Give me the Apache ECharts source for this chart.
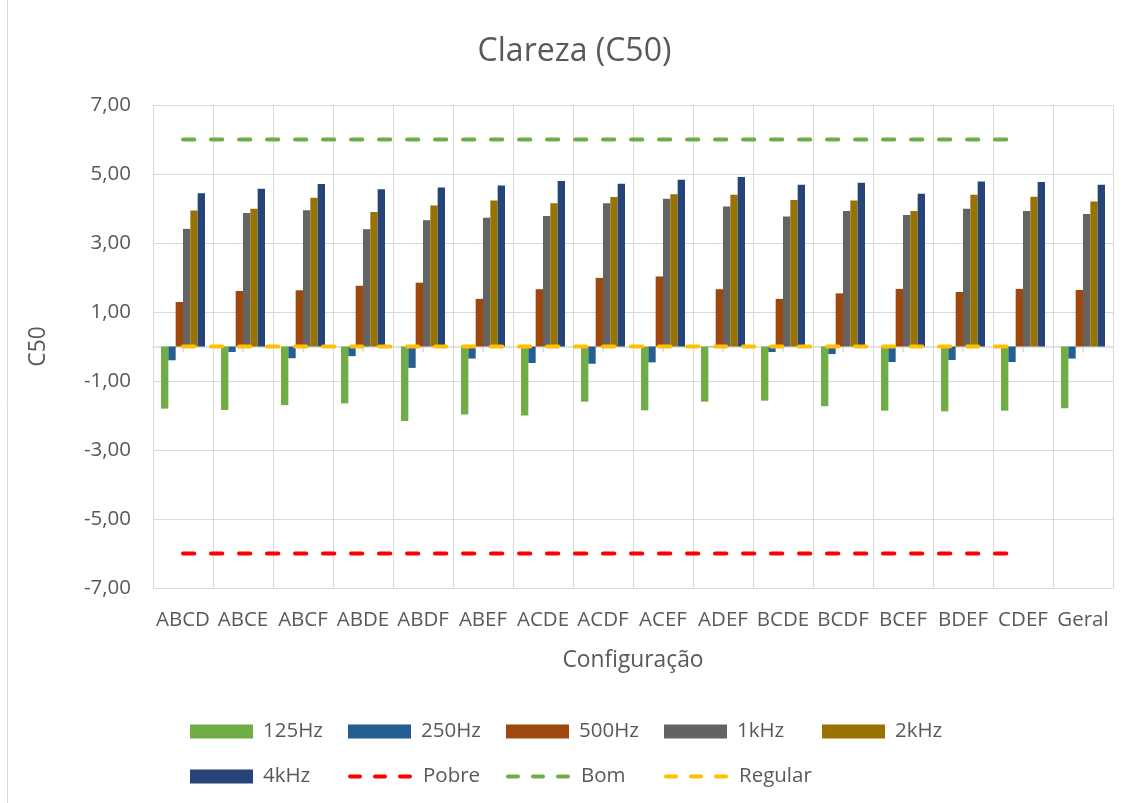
<!DOCTYPE html>
<html>
<head>
<meta charset="utf-8">
<title>Clareza (C50)</title>
<script src="https://cdn.jsdelivr.net/npm/echarts@6/dist/echarts.min.js"></script>
<style>
  html, body { margin: 0; padding: 0; background: #ffffff; }
  #chart { width: 1135px; height: 803px; }
</style>
</head>
<body>
<div id="chart"></div>
<script>
// Configurations measured and the overall result
const categories = ['ABCD', 'ABCE', 'ABCF', 'ABDE', 'ABDF', 'ABEF', 'ACDE', 'ACDF',
                    'ACEF', 'ADEF', 'BCDE', 'BCDF', 'BCEF', 'BDEF', 'CDEF', 'Geral'];

// C50 per octave band (dB)
const hz125 = [-1.80, -1.84, -1.70, -1.65, -2.16, -1.97, -2.00, -1.60, -1.85, -1.60, -1.57, -1.73, -1.86, -1.88, -1.86, -1.79];
const hz250 = [-0.40, -0.16, -0.34, -0.28, -0.62, -0.35, -0.48, -0.50, -0.46, -0.01, -0.16, -0.22, -0.45, -0.39, -0.45, -0.35];
const hz500 = [1.29, 1.61, 1.63, 1.76, 1.85, 1.38, 1.66, 1.99, 2.03, 1.66, 1.38, 1.54, 1.67, 1.58, 1.67, 1.64];
const khz1  = [3.41, 3.87, 3.95, 3.40, 3.66, 3.73, 3.78, 4.15, 4.28, 4.06, 3.77, 3.93, 3.81, 3.99, 3.93, 3.84];
const khz2  = [3.94, 3.99, 4.31, 3.90, 4.09, 4.23, 4.15, 4.33, 4.41, 4.40, 4.25, 4.23, 3.93, 4.40, 4.34, 4.20];
const khz4  = [4.44, 4.57, 4.71, 4.56, 4.61, 4.67, 4.80, 4.72, 4.83, 4.91, 4.69, 4.75, 4.43, 4.78, 4.77, 4.69];

// Reference limits (not drawn for "Geral")
const pobre   = [-6, -6, -6, -6, -6, -6, -6, -6, -6, -6, -6, -6, -6, -6, -6, null];
const bom     = [6, 6, 6, 6, 6, 6, 6, 6, 6, 6, 6, 6, 6, 6, 6, null];
const regular = [0, 0, 0, 0, 0, 0, 0, 0, 0, 0, 0, 0, 0, 0, 0, null];

// Value axis range and tick step
const yMin = -7;
const yMax = 7;
const yStep = 2;

// Legend entries, one list per row
const legendRows = [
  ['125Hz', '250Hz', '500Hz', '1kHz', '2kHz'],
  ['4kHz', 'Pobre', 'Bom', 'Regular']
];

const FONT = 'Open Sans';
const TEXT = '#595959';
const GRID = '#D9D9D9';

const barDefs = [
  { name: '125Hz', data: hz125, color: '#70AD47' },
  { name: '250Hz', data: hz250, color: '#255E91' },
  { name: '500Hz', data: hz500, color: '#9E480E' },
  { name: '1kHz',  data: khz1,  color: '#636363' },
  { name: '2kHz',  data: khz2,  color: '#997300' },
  { name: '4kHz',  data: khz4,  color: '#264478' }
];
const lineDefs = [
  { name: 'Pobre',   data: pobre,   color: '#FF0000' },
  { name: 'Bom',     data: bom,     color: '#70AD47' },
  { name: 'Regular', data: regular, color: '#FFC000' }
];
const lineNames = lineDefs.map(d => d.name);

const barSeries = barDefs.map(s => ({
  name: s.name,
  type: 'bar',
  data: s.data,
  barGap: '0%',
  barCategoryGap: '26.7%',
  itemStyle: { color: s.color },
  emphasis: { disabled: true }
}));

const lineSeries = lineDefs.map(s => ({
  name: s.name,
  type: 'line',
  data: s.data,
  symbol: 'none',
  itemStyle: { color: s.color },
  lineStyle: { color: s.color, width: 4, type: [11.3, 16.7], cap: 'round' },
  emphasis: { disabled: true }
}));

// One legend block per entry so the entries sit on a fixed column grid
const legendDash = { type: [10, 15], width: 4, cap: 'round' };
const legends = [];
legendRows.forEach((row, r) => {
  row.forEach((name, c) => {
    const isLine = lineNames.indexOf(name) >= 0;
    legends.push({
      left: 190 + c * 158,
      top: 721 + r * 45,
      padding: 0,
      itemWidth: 63,
      itemHeight: 14,
      itemGap: 0,
      selectedMode: false,
      textStyle: { fontFamily: FONT, fontSize: 20.5, color: TEXT, padding: [0, 0, 0, 5] },
      data: [isLine
        ? { name: name, lineStyle: legendDash, itemStyle: { opacity: 0 } }
        : { name: name, icon: 'rect' }]
    });
  });
});

const chart = echarts.init(document.getElementById('chart'), null, { renderer: 'canvas' });

chart.setOption({
  animation: false,
  backgroundColor: '#ffffff',
  textStyle: { fontFamily: FONT },
  graphic: [
    {
      type: 'rect',
      silent: true,
      shape: { x: 7.5, y: -5, width: 1150, height: 813 },
      style: { fill: 'none', stroke: GRID, lineWidth: 1 }
    },
    {
      type: 'text',
      silent: true,
      x: 574.5,
      y: 52,
      style: {
        text: 'Clareza (C50)',
        font: '32px "Open Sans"',
        fill: TEXT,
        textAlign: 'center',
        textVerticalAlign: 'middle'
      }
    }
  ],
  grid: { left: 153, right: 22, top: 105, bottom: 215, containLabel: false },
  legend: legends,
  xAxis: [
    {
      type: 'category',
      data: categories,
      position: 'bottom',
      axisLine: { show: false, onZero: false },
      axisTick: { show: false },
      axisLabel: { interval: 0, fontFamily: FONT, fontSize: 20.5, color: TEXT, margin: 22 },
      splitLine: { show: true, interval: 0, lineStyle: { color: GRID, width: 1 } },
      name: 'Configuração',
      nameLocation: 'middle',
      nameGap: 61,
      nameTextStyle: { fontFamily: FONT, fontSize: 22.8, color: TEXT }
    },
    {
      // zero line with small ticks under each group
      type: 'category',
      data: categories,
      position: 'bottom',
      axisLine: { show: true, onZero: true, lineStyle: { color: GRID, width: 1.5 } },
      axisTick: { show: true, alignWithLabel: true, interval: 0, length: 6, lineStyle: { color: GRID, width: 1.5 } },
      axisLabel: { show: false },
      splitLine: { show: false }
    }
  ],
  yAxis: {
    type: 'value',
    min: yMin,
    max: yMax,
    interval: yStep,
    axisLine: { show: false },
    axisTick: { show: false },
    axisLabel: {
      fontFamily: FONT,
      fontSize: 20.5,
      color: TEXT,
      margin: 22,
      formatter: v => v.toFixed(2).replace('.', ',')
    },
    splitLine: { show: true, lineStyle: { color: GRID, width: 1 } },
    name: 'C50',
    nameLocation: 'middle',
    nameGap: 103,
    nameTextStyle: { fontFamily: FONT, fontSize: 22.8, color: TEXT }
  },
  series: barSeries.concat(lineSeries)
});
</script>
</body>
</html>
